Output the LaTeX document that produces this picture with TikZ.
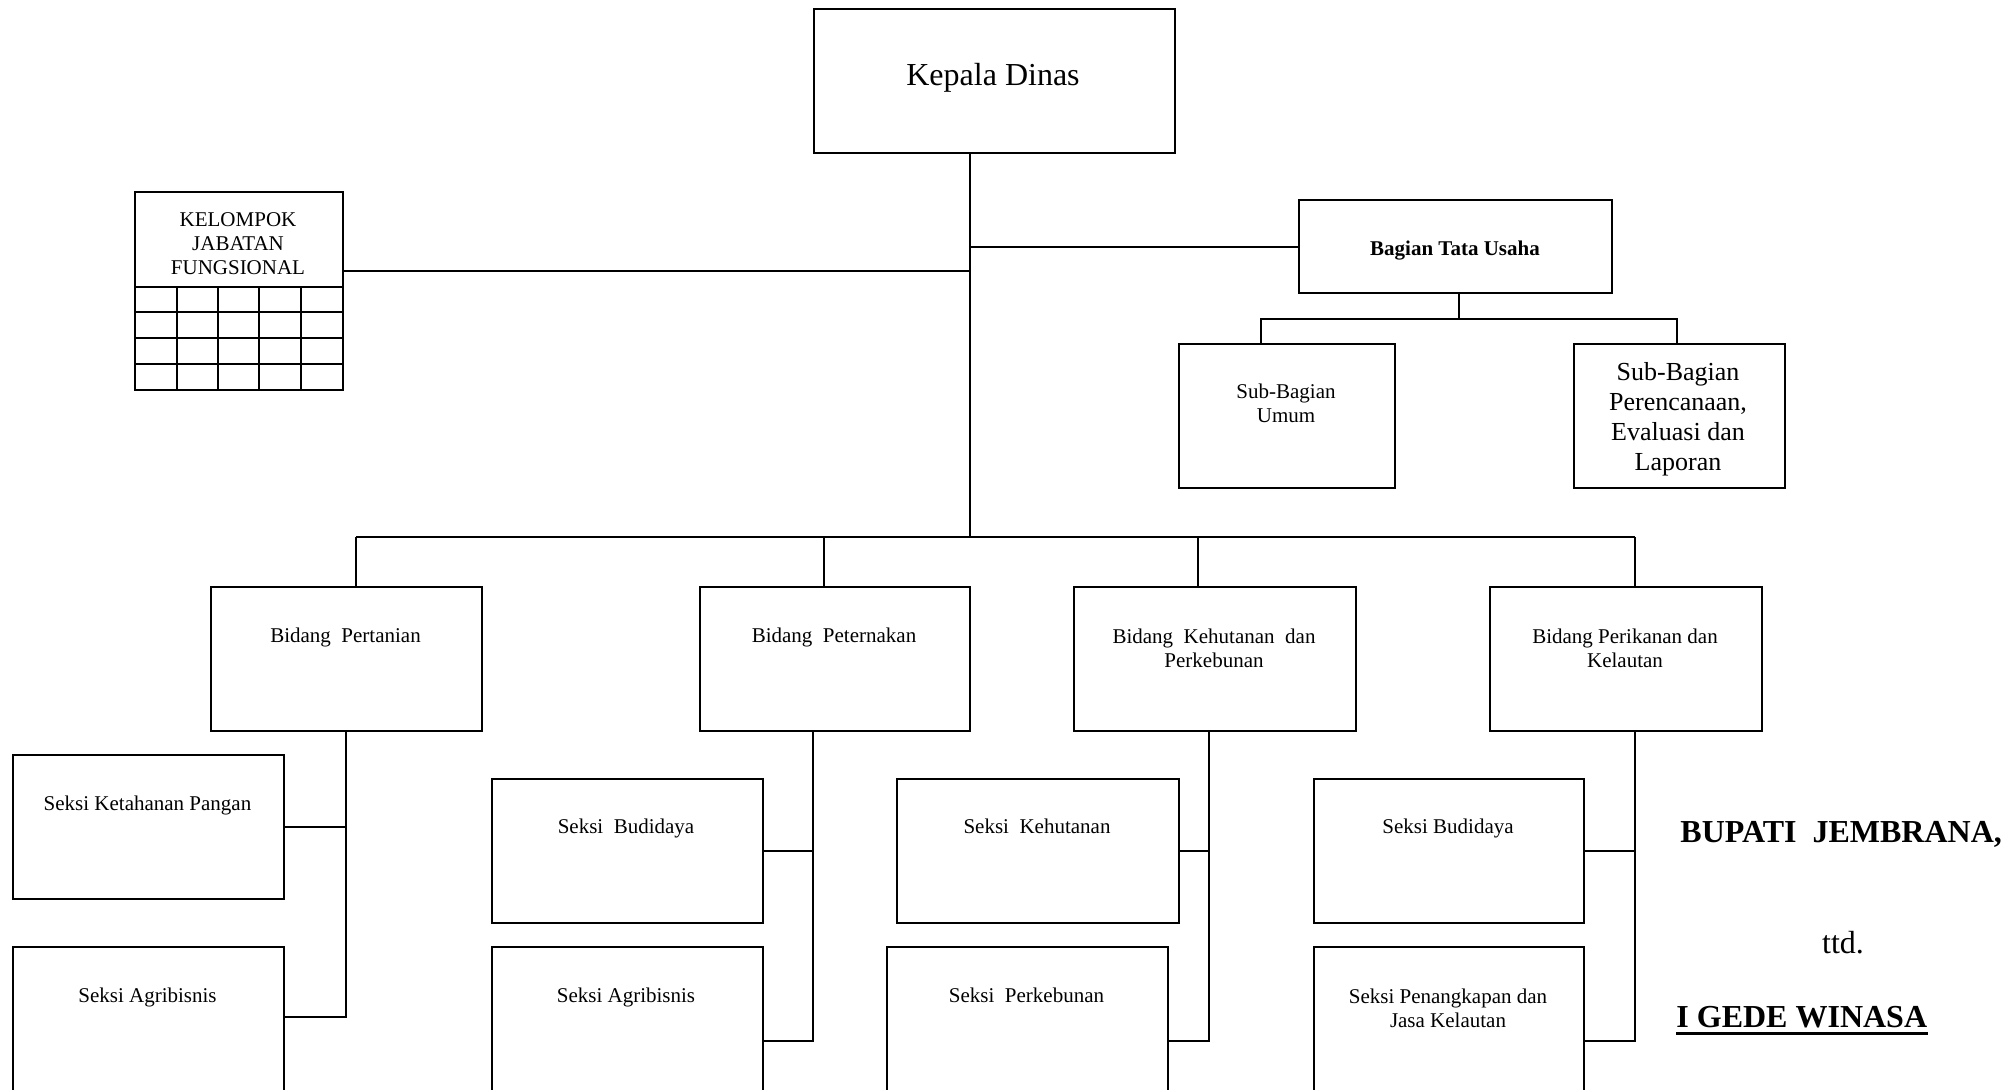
\documentclass[tikz,border=0pt]{standalone}
\usepackage{fontspec}
\setmainfont{Liberation Serif}
\usetikzlibrary{calc}
\begin{document}
\begin{tikzpicture}[x=0.5pt,y=-0.5pt,
  box/.style={draw, line width=1pt, rectangle, inner sep=0pt, anchor=north west},
  ln/.style={line width=1pt},
  txs/.style={inner sep=0pt, anchor=base, align=center, font=\fontsize{10.5}{12}\selectfont},
  txm/.style={inner sep=0pt, anchor=base, align=center, font=\fontsize{13}{15}\selectfont},
  txb/.style={inner sep=0pt, anchor=base, align=center, font=\fontsize{16}{19}\selectfont}]
\useasboundingbox (0,0) rectangle (2016,1089);
\clip (0,0) rectangle (2016,1089);
\fill[white] (0,0) rectangle (2016,1089);

% boxes
\node[box, minimum width=180.5pt, minimum height=72pt] (kd) at (813,8) {};
\node[box, minimum width=104pt, minimum height=99pt] (kjf) at (134,191) {};
\node[box, minimum width=156.5pt, minimum height=46.5pt] (btu) at (1298,199) {};
\node[box, minimum width=108pt, minimum height=72pt] (sbu) at (1178,343) {};
\node[box, minimum width=105.5pt, minimum height=72pt] (sbp) at (1573,343) {};
\node[box, minimum width=135.5pt, minimum height=72pt] (bp1) at (210,586) {};
\node[box, minimum width=135pt, minimum height=72pt] (bp2) at (699,586) {};
\node[box, minimum width=141pt, minimum height=72pt] (bp3) at (1073,586) {};
\node[box, minimum width=136pt, minimum height=72pt] (bp4) at (1489,586) {};
\node[box, minimum width=135.5pt, minimum height=72pt] (s11) at (12,754) {};
\node[box, minimum width=135.5pt, minimum height=72pt] (s12) at (12,946) {};
\node[box, minimum width=135.5pt, minimum height=72pt] (s21) at (491,778) {};
\node[box, minimum width=135.5pt, minimum height=72pt] (s22) at (491,946) {};
\node[box, minimum width=141pt, minimum height=72pt] (s31) at (896,778) {};
\node[box, minimum width=140.5pt, minimum height=72pt] (s32) at (886,946) {};
\node[box, minimum width=135pt, minimum height=72pt] (s41) at (1313,778) {};
\node[box, minimum width=135pt, minimum height=72pt] (s42) at (1313,946) {};

% grid of kelompok jabatan fungsional
\foreach \yy in {287,312,338,364} \draw[ln] (134,\yy) -- (342,\yy);
\foreach \xx in {177,218,259,301} \draw[ln] (\xx,287) -- (\xx,389);

% texts (base anchor = baseline of last line)
\node[txb] (kdt) at (993,85) {Kepala Dinas};
\node[txs] (kjft) at (238,274) {KELOMPOK\\JABATAN\\FUNGSIONAL};
\node[txs, font=\fontsize{10.5}{12}\selectfont\bfseries] (btut) at (1455,255) {Bagian Tata Usaha};
\node[txs] (sbut) at (1286,422) {Sub-Bagian\\Umum};
\node[txm] (sbpt) at (1678,470) {Sub-Bagian\\Perencanaan,\\Evaluasi dan\\Laporan};
\node[txs] (bp1t) at (345.5,642) {Bidang\ \ Pertanian};
\node[txs] (bp2t) at (834,642) {Bidang\ \ Peternakan};
\node[txs] (bp3t) at (1214,667) {Bidang\ \ Kehutanan\ \ dan\\Perkebunan};
\node[txs] (bp4t) at (1625,667) {Bidang Perikanan dan\\Kelautan};
\node[txs] (s11t) at (147.5,810) {Seksi Ketahanan Pangan};
\node[txs] (s12t) at (147.5,1002) {Seksi Agribisnis};
\node[txs] (s21t) at (626,833) {Seksi\ \ Budidaya};
\node[txs] (s22t) at (626,1002) {Seksi Agribisnis};
\node[txs] (s31t) at (1037,833) {Seksi\ \ Kehutanan};
\node[txs] (s32t) at (1026.5,1002) {Seksi\ \ Perkebunan};
\node[txs] (s41t) at (1448,833) {Seksi Budidaya};
\node[txs] (s42t) at (1448,1027) {Seksi Penangkapan dan\\Jasa Kelautan};

\node[txb, anchor=base west, font=\fontsize{16}{19}\selectfont\bfseries] (bup) at (1680,842) {BUPATI\ \ JEMBRANA,};
\node[txb] (ttd) at (1843,953) {ttd.};
\node[txb, anchor=base west, font=\fontsize{16}{19}\selectfont\bfseries] (igw) at (1676,1027) {I GEDE WINASA};
\draw[line width=1.5pt] ($(igw.base west)+(0,6)$) -- ($(igw.base east)+(0,6)$);

% connector coordinates
\coordinate (t1) at (970,537);
\coordinate (tj) at (970,271);
\coordinate (b1) at (356,537);
\coordinate (b2) at (824,537);
\coordinate (b3) at (1198,537);
\coordinate (b4) at (1635,537);
\coordinate (u0) at (1459,319);
\coordinate (u1) at (1261,319);
\coordinate (u2) at (1677,319);
\coordinate (v1) at (346,1017);
\coordinate (v2) at (813,1041);
\coordinate (v3) at (1209,1041);
\coordinate (v4) at (1635,1041);

% connectors
\draw[ln] (kd.south -| t1) -- (t1);
\draw[ln] (kjf.east |- tj) -- (tj);
\draw[ln] (btu.west -| t1) -- (btu.west);
\draw[ln] (b1) -- (b4);
\draw[ln] (b1) -- (bp1.north -| b1);
\draw[ln] (b2) -- (bp2.north -| b2);
\draw[ln] (b3) -- (bp3.north -| b3);
\draw[ln] (b4) -- (bp4.north -| b4);
\draw[ln] (btu.south -| u0) -- (u0);
\draw[ln] (sbu.north -| u1) -- (u1) -- (u2) -- (sbp.north -| u2);

\draw[ln] (bp1.south -| v1) -- (v1) -- (s12.east |- v1);
\draw[ln] (s11.east) -- (s11.east -| v1);
\draw[ln] (bp2.south -| v2) -- (v2) -- (s22.east |- v2);
\draw[ln] (s21.east) -- (s21.east -| v2);
\draw[ln] (bp3.south -| v3) -- (v3) -- (s32.east |- v3);
\draw[ln] (s31.east) -- (s31.east -| v3);
\draw[ln] (bp4.south -| v4) -- (v4) -- (s42.east |- v4);
\draw[ln] (s41.east) -- (s41.east -| v4);
\end{tikzpicture}
\end{document}
